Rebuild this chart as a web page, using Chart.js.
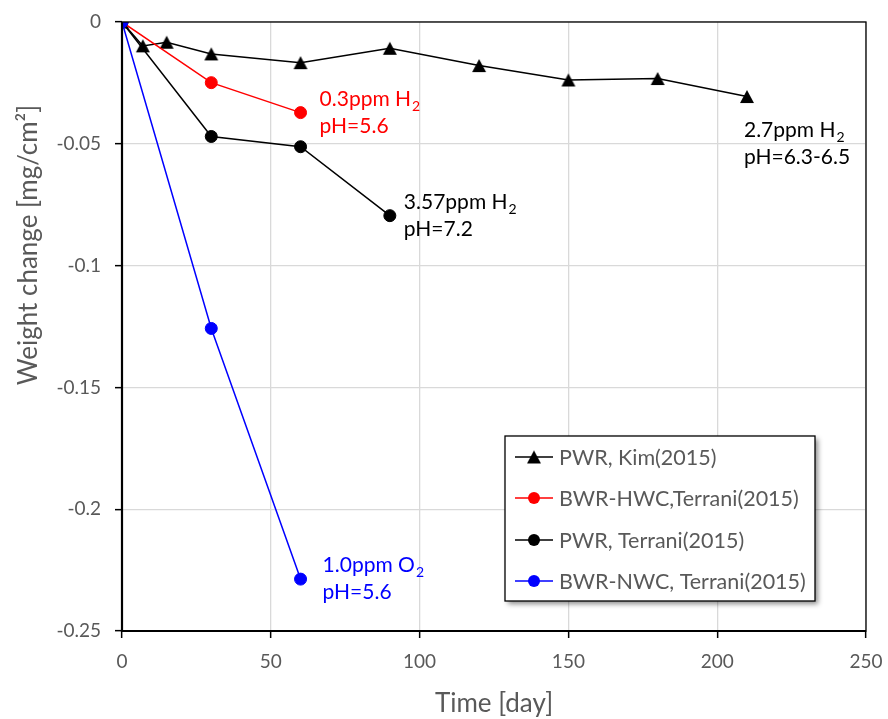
<!DOCTYPE html>
<html>
<head>
<meta charset="utf-8">
<script src="https://cdn.jsdelivr.net/npm/chart.js@4/dist/chart.umd.min.js"></script>
<style>
  html, body { margin: 0; padding: 0; background: #ffffff; }
  #wrap { width: 888px; height: 719px; }
</style>
</head>
<body>
<div id="wrap"><canvas id="c" width="888" height="719"></canvas></div>
<script>
// Weight change of specimens versus exposure time
const xTicks = [0, 50, 100, 150, 200, 250];
const yTicks = [0, -0.05, -0.1, -0.15, -0.2, -0.25];
const yTickLabels = ['0', '-0.05', '-0.1', '-0.15', '-0.2', '-0.25'];

const kimDays = [0, 7, 15, 30, 60, 90, 120, 150, 180, 210];
const kimWeight = [0, -0.0098, -0.0083, -0.0131, -0.0167, -0.0108, -0.0179, -0.0238, -0.0232, -0.0306];

const hwcDays = [0, 30, 60];
const hwcWeight = [0, -0.0249, -0.0372];

const pwrTDays = [0, 30, 60, 90];
const pwrTWeight = [0, -0.0470, -0.0512, -0.0795];

const nwcDays = [0, 30, 60];
const nwcWeight = [0, -0.1258, -0.2287];

const seriesNames = ['PWR, Kim(2015)', 'BWR-HWC,Terrani(2015)', 'PWR, Terrani(2015)', 'BWR-NWC, Terrani(2015)'];

const FONT = 'Lato, "Open Sans", sans-serif';
const GREY = '#595959';

function pts(xs, ys) { return xs.map((x, i) => ({ x: x, y: ys[i] })); }

// filled triangle marker, centred on its bounding box
function triangleMarker(w, h, color) {
  const cv = document.createElement('canvas');
  cv.width = w + 2;
  cv.height = h + 2;
  const c = cv.getContext('2d');
  c.fillStyle = color;
  c.beginPath();
  c.moveTo(cv.width / 2, 1);
  c.lineTo(cv.width - 1, h + 1);
  c.lineTo(1, h + 1);
  c.closePath();
  c.fill();
  return cv;
}
const triImg = triangleMarker(14, 13, '#000000');

// condition notes, attached to the last point of each series
const notes = [
  { ds: 1, idx: 2, dx: 19, dy: -7, color: '#ff0000', main: '0.3ppm H', sub: '2', line2: 'pH=5.6' },
  { ds: 2, idx: 3, dx: 14, dy: -7, color: '#000000', main: '3.57ppm H', sub: '2', line2: 'pH=7.2' },
  { ds: 0, idx: 9, dx: -3, dy: 40, color: '#000000', main: '2.7ppm H', sub: '2', line2: 'pH=6.3-6.5' },
  { ds: 3, idx: 2, dx: 22, dy: -7, color: '#0000ff', main: '1.0ppm O', sub: '2', line2: 'pH=5.6' }
];

const decorPlugin = {
  id: 'decor',
  afterDraw(chart) {
    const ctx = chart.ctx;
    const a = chart.chartArea;
    ctx.save();
    // frame around plot area
    ctx.strokeStyle = '#000';
    ctx.lineWidth = 1.3;
    ctx.strokeRect(a.left, a.top, a.right - a.left, a.bottom - a.top);
    ctx.lineWidth = 2.2;
    ctx.beginPath();
    ctx.moveTo(a.left, a.top);
    ctx.lineTo(a.left, a.bottom);
    ctx.lineTo(a.right, a.bottom);
    ctx.stroke();

    // axis titles
    ctx.fillStyle = GREY;
    ctx.font = '26px ' + FONT;
    ctx.textAlign = 'center';
    ctx.textBaseline = 'alphabetic';
    ctx.fillText('Time [day]', (a.left + a.right) / 2, 712);
    ctx.save();
    ctx.translate(37, 245);
    ctx.rotate(-Math.PI / 2);
    ctx.fillText('Weight change [mg/cm²]', 0, 0);
    ctx.restore();

    // notes
    ctx.textAlign = 'left';
    notes.forEach(n => {
      const el = chart.getDatasetMeta(n.ds).data[n.idx];
      const x = el.x + n.dx, y = el.y + n.dy;
      ctx.fillStyle = n.color;
      ctx.font = '21px ' + FONT;
      ctx.fillText(n.main, x, y);
      const w = ctx.measureText(n.main).width;
      ctx.font = '14px ' + FONT;
      ctx.fillText(n.sub, x + w + 1, y + 5);
      ctx.font = '21px ' + FONT;
      ctx.fillText(n.line2, x, y + 27);
    });

    // legend box
    const bx = 505, by = 436, bw = 310, bh = 165;
    ctx.save();
    ctx.shadowColor = 'rgba(0,0,0,0.45)';
    ctx.shadowBlur = 5;
    ctx.shadowOffsetX = 3;
    ctx.shadowOffsetY = 3;
    ctx.fillStyle = '#ffffff';
    ctx.fillRect(bx, by, bw, bh);
    ctx.restore();
    ctx.strokeStyle = '#000';
    ctx.lineWidth = 1.3;
    ctx.strokeRect(bx, by, bw, bh);
    const rows = [457, 498, 540, 581];
    chart.data.datasets.forEach((ds, i) => {
      const ry = rows[i];
      ctx.strokeStyle = ds.borderColor;
      ctx.lineWidth = 1.5;
      ctx.beginPath();
      ctx.moveTo(515, ry);
      ctx.lineTo(553, ry);
      ctx.stroke();
      if (ds.pointStyle instanceof HTMLCanvasElement) {
        const im = ds.pointStyle;
        ctx.drawImage(im, 534 - im.width / 2, ry - im.height / 2);
      } else {
        ctx.fillStyle = ds.pointBackgroundColor;
        ctx.beginPath();
        ctx.arc(534, ry, ds.pointRadius, 0, Math.PI * 2);
        ctx.fill();
      }
      ctx.fillStyle = GREY;
      ctx.font = '21.5px ' + FONT;
      ctx.textBaseline = 'middle';
      ctx.fillText(seriesNames[i], 559, ry + 1);
      ctx.textBaseline = 'alphabetic';
    });
    ctx.restore();
  }
};

function series(label, data, color, style, radius, order) {
  return {
    label: label,
    data: data,
    borderColor: color,
    backgroundColor: color,
    pointBackgroundColor: color,
    pointBorderColor: color,
    pointStyle: style,
    pointRadius: radius,
    pointHoverRadius: radius,
    pointBorderWidth: 1,
    borderWidth: 1.5,
    tension: 0,
    showLine: true,
    order: order
  };
}

new Chart(document.getElementById('c'), {
  type: 'scatter',
  data: {
    datasets: [
      series(seriesNames[0], pts(kimDays, kimWeight), '#000000', triImg, 7.5, 4),
      series(seriesNames[1], pts(hwcDays, hwcWeight), '#ff0000', 'circle', 6, 3),
      series(seriesNames[2], pts(pwrTDays, pwrTWeight), '#000000', 'circle', 6, 2),
      series(seriesNames[3], pts(nwcDays, nwcWeight), '#0000ff', 'circle', 6, 1)
    ]
  },
  options: {
    responsive: false,
    animation: false,
    events: [],
    layout: { padding: { left: 0, top: 22, right: 22, bottom: 0 } },
    plugins: { legend: { display: false }, tooltip: { enabled: false } },
    scales: {
      x: {
        type: 'linear',
        min: xTicks[0],
        max: xTicks[xTicks.length - 1],
        afterBuildTicks: s => { s.ticks = xTicks.map(v => ({ value: v })); },
        afterFit: s => { s.height = 88; s.paddingLeft = 0; s.paddingRight = 0; },
        ticks: {
          color: GREY,
          font: { family: FONT, size: 19 },
          padding: 12,
          maxRotation: 0,
          callback: v => String(v)
        },
        grid: { color: '#d9d9d9', lineWidth: 1.3, tickColor: '#000', tickLength: 7, tickWidth: 1.5 },
        border: { display: false }
      },
      y: {
        type: 'linear',
        min: yTicks[yTicks.length - 1],
        max: yTicks[0],
        afterBuildTicks: s => { s.ticks = yTicks.map(v => ({ value: v })); },
        afterFit: s => { s.width = 122; s.paddingTop = 0; s.paddingBottom = 0; },
        ticks: {
          color: GREY,
          font: { family: FONT, size: 19 },
          padding: 14,
          callback: v => {
            const i = yTicks.findIndex(t => Math.abs(t - v) < 1e-9);
            return i >= 0 ? yTickLabels[i] : '';
          }
        },
        grid: { color: '#d9d9d9', lineWidth: 1.3, tickColor: '#000', tickLength: 7, tickWidth: 1.5 },
        border: { display: false }
      }
    }
  },
  plugins: [decorPlugin]
});
</script>
</body>
</html>
